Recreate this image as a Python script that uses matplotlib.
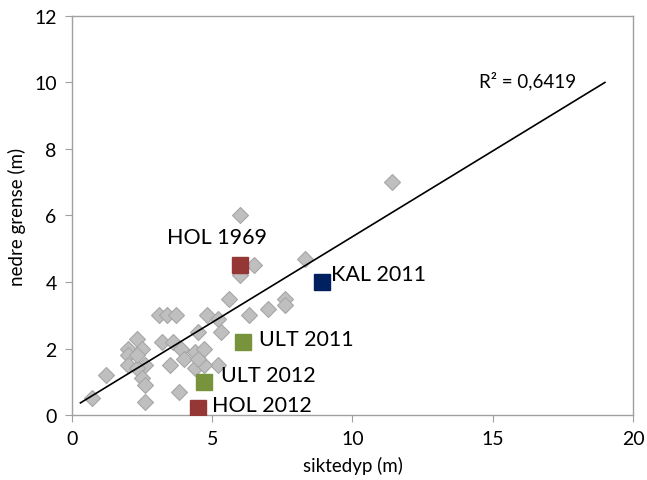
import numpy as np
import matplotlib
matplotlib.use("Agg")
import matplotlib.pyplot as plt

plt.rcParams['font.family'] = ['Lato', 'DejaVu Sans']

# grey points (siktedyp, nedre grense)
sikt = [0.7, 1.2, 2.0, 2.3, 2.5, 2.0, 2.0, 2.6, 2.3, 2.5, 2.6, 2.6,
        3.1, 3.4, 3.7, 3.2, 3.6, 3.9, 4.0, 3.5, 3.8, 4.4, 4.4, 4.7,
        4.5, 4.8, 5.2, 5.3, 5.2, 4.7, 5.6, 6.3, 7.0, 7.6, 7.6, 8.3,
        6.0, 6.5, 6.0, 11.4, 2.3, 4.5]
nedre = [0.5, 1.2, 2.0, 2.3, 2.0, 1.8, 1.5, 1.5, 1.4, 1.1, 0.9, 0.4,
         3.0, 3.0, 3.0, 2.2, 2.2, 2.0, 1.7, 1.5, 0.7, 1.4, 1.9, 2.0,
         2.5, 3.0, 2.9, 2.5, 1.5, 1.5, 3.5, 3.0, 3.2, 3.5, 3.3, 4.7,
         4.2, 4.5, 6.0, 7.0, 1.8, 1.7]

# highlighted lakes
lakes = ['HOL 1969', 'KAL 2011', 'ULT 2011', 'ULT 2012', 'HOL 2012']
lake_sikt = [6.0, 8.9, 6.1, 4.7, 4.5]
lake_nedre = [4.5, 4.0, 2.2, 1.0, 0.2]
lake_col = ['#953735', '#002060', '#77933C', '#77933C', '#953735']

trend_x = [0.3, 19.0]

fig = plt.figure(figsize=(6.47, 4.81), dpi=100)
ax = fig.add_axes([0.1113, 0.135, 0.867, 0.83])

ax.plot(sikt, nedre, 'D', ms=8.6, mfc='#BFBFBF', mec='#A6A6A6', mew=0.8, zorder=2)

k, m = np.polyfit(sikt, nedre, 1)
tx = np.array(trend_x)
ax.plot(tx, k * tx + m, color='black', lw=1.2, zorder=3)
ax.text(14.5, 9.8, 'R² = 0,6419', fontsize=13.5, ha='left', va='bottom')

offsets = {'HOL 1969': (-2.6, 0.55, 'left', 'bottom'),
           'KAL 2011': (0.35, 0.25, 'left', 'center'),
           'ULT 2011': (0.55, 0.1, 'left', 'center'),
           'ULT 2012': (0.6, 0.2, 'left', 'center'),
           'HOL 2012': (0.5, 0.1, 'left', 'center')}
for name, x, y, c in zip(lakes, lake_sikt, lake_nedre, lake_col):
    ax.plot(x, y, 's', ms=11.5, mfc=c, mec=c, zorder=4)
    dx, dy, ha, va = offsets[name]
    ax.text(x + dx, y + dy, name, fontsize=15.5, ha=ha, va=va, zorder=5)

ax.set_xlim(0, 20)
ax.set_ylim(0, 12)
ax.set_xticks([0, 5, 10, 15, 20])
ax.set_yticks(range(0, 13, 2))
for s in ax.spines.values():
    s.set_color('#A0A0A0')
    s.set_linewidth(1.0)
ax.tick_params(colors='#A0A0A0', labelcolor='black', labelsize=14, length=5,
               direction='out', pad=6)
ax.set_xlabel('siktedyp (m)', fontsize=13.5, labelpad=6)
ax.set_ylabel('nedre grense (m)', fontsize=13.5, labelpad=6)

fig.savefig('out.png', dpi=100)
